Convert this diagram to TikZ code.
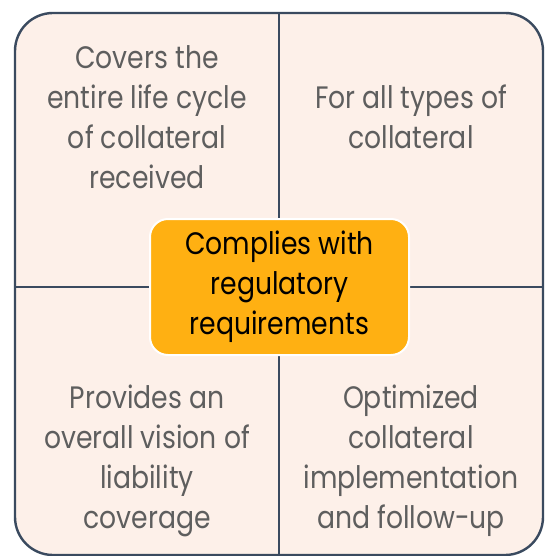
\documentclass[tikz,border=0pt]{standalone}
\usepackage{fontspec}
\setmainfont{Poppins}[FakeStretch=0.86]
\begin{document}
\begin{tikzpicture}[x=1pt,y=-1pt,
  quadtext/.style={text=txtgray,align=center,font=\fontsize{31}{40}\selectfont,inner sep=0pt},
  centerbox/.style={fill=boxorange,draw=white,line width=2pt,rounded corners=18pt,minimum width=259pt,minimum height=136pt,align=center,text=black,font=\fontsize{31}{40}\selectfont,inner sep=0pt},
  divider/.style={draw=slate,line width=2.4pt}]
\definecolor{peach}{HTML}{FDF0E9}
\definecolor{slate}{HTML}{3A4A5F}
\definecolor{txtgray}{HTML}{5E5E5E}
\definecolor{boxorange}{HTML}{FFB012}
\useasboundingbox (0,0) rectangle (550,556);
\fill[white] (0,0) rectangle (550,556);
\fill[peach,rounded corners=38pt] (15,13) rectangle (543,555);
\coordinate (top) at (279,13);
\coordinate (bot) at (279,555);
\coordinate (lft) at (15,287);
\coordinate (rgt) at (543,287);
\draw[divider] (top) -- (bot);
\draw[divider] (lft) -- (rgt);
\draw[slate,line width=2.4pt,rounded corners=38pt] (15,13) rectangle (543,555);
\node[quadtext] (tl) at (147,117) {Covers the\\entire life cycle\\of collateral\\received};
\node[quadtext] (tr) at (411,117) {For all types of\\collateral};
\node[quadtext] (bl) at (147,461) {Provides an\\overall vision of\\liability\\coverage};
\node[quadtext] (br) at (411,461) {Optimized\\collateral\\implementation\\and follow-up};
\node[centerbox] (c) at (279.5,287) {\raisebox{0pt}{}Complies with\\regulatory\\requirements};
\end{tikzpicture}
\end{document}
